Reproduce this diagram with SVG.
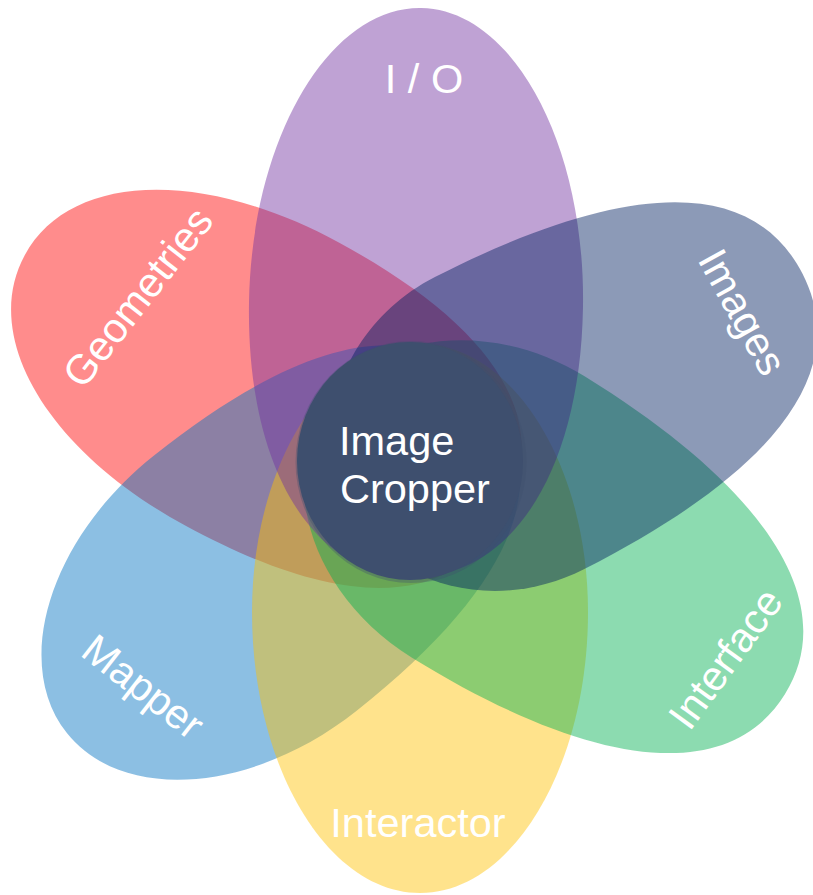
<svg xmlns="http://www.w3.org/2000/svg" width="813" height="895" viewBox="0 0 813 895">
<style>
.petal{fill-opacity:0.45;stroke:none}
.lbl{font-family:"Liberation Sans",Arial,sans-serif;fill:#ffffff;font-size:41.5px}
</style>
<rect width="813" height="895" fill="#ffffff"/>
<g id="geometries">
<path class="petal" fill="#FF0000" transform="translate(262,384) rotate(-61.5)" d="M0,-270 C93.4,-270 161,-156.6 161,0 C161,181.5 106.3,275 0,275 C-106.3,275 -161,181.5 -161,0 C-161,-156.6 -93.4,-270 0,-270Z"/>
</g>
<g id="mapper">
<path class="petal" fill="#0070C0" transform="translate(255.5,583) rotate(231.5)" d="M0,-241 C89.65,-241 163,-132.55 163,0 C163,198 107.6,300 0,300 C-107.6,300 -163,198 -163,0 C-163,-132.55 -89.65,-241 0,-241Z"/>
</g>
<g id="interactor">
<path class="petal" fill="#FFC000" transform="translate(420,612) rotate(180)" d="M0,-281 C92.4,-281 168,-154.55 168,0 C168,147.4 92.4,268 0,268 C-92.4,268 -168,147.4 -168,0 C-168,-154.55 -92.4,-281 0,-281Z"/>
</g>
<g id="interface">
<path class="petal" fill="#00B050" transform="translate(498.3,517) rotate(121.7)" d="M0,-337 C105.6,-337 165,-215.7 165,0 C165,112.75 90.75,205 0,205 C-90.75,205 -165,112.75 -165,0 C-165,-215.7 -105.6,-337 0,-337Z"/>
</g>
<g id="io">
<path class="petal" fill="#7030A0" transform="translate(416,305) rotate(1)" d="M0,-297 C91.85,-297 167,-163.35 167,0 C167,163.2 100.2,272 0,272 C-100.2,272 -167,163.2 -167,0 C-167,-163.35 -91.85,-297 0,-297Z"/>
</g>
<g id="images">
<path class="petal" fill="#002060" transform="translate(509.4,423.2) rotate(63)" d="M0,-329 C108.2,-329 164,-217.1 164,0 C164,100.1 90.2,182 0,182 C-90.2,182 -164,100.1 -164,0 C-164,-217.1 -108.2,-329 0,-329Z"/>
</g>
<g id="image-cropper">
<ellipse cx="411" cy="462" rx="115.5" ry="121" fill="#3e4f6e" fill-opacity="0.35"/>
<ellipse cx="410" cy="461" rx="113" ry="119" fill="#3e4f6e"/>
<text class="lbl" font-size="43.5" x="339" y="455">Image</text>
<text class="lbl" font-size="43.5" x="340" y="503">Cropper</text>
</g>
<g id="labels">
<text class="lbl" text-anchor="middle" x="424" y="93">I / O</text>
<text class="lbl" text-anchor="middle" x="418" y="837">Interactor</text>
<text class="lbl" text-anchor="middle" transform="translate(149,306) rotate(-52)">Geometries</text>
<text class="lbl" text-anchor="middle" transform="translate(730,319) rotate(61)">Images</text>
<text class="lbl" text-anchor="middle" transform="translate(737,667) rotate(-54)">Interface</text>
<text class="lbl" text-anchor="middle" transform="translate(134.5,698) rotate(38)">Mapper</text>
</g>
<g id="connectors"></g>
</svg>
